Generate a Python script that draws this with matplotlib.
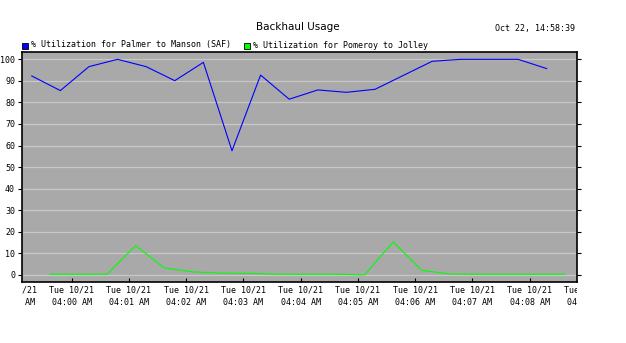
import matplotlib
matplotlib.use("Agg")
import matplotlib.pyplot as plt
from matplotlib.patches import Rectangle
from matplotlib.transforms import Bbox, TransformedBbox
from datetime import datetime

# sample times (Tue 10/21) and % utilization
blue_times = ["03:59:18", "03:59:48", "04:00:18", "04:00:48", "04:01:18",
              "04:01:48", "04:02:18", "04:02:48", "04:03:18", "04:03:48",
              "04:04:18", "04:04:48", "04:05:18", "04:05:48", "04:06:18",
              "04:06:48", "04:07:18", "04:07:48", "04:08:18"]
blue_vals = [92.3, 85.5, 96.6, 100.0, 96.6, 90.1, 98.6, 57.6, 92.7, 81.5,
             85.8, 84.7, 86.1, 92.6, 99.1, 100.0, 100.0, 100.0, 95.7]

green_times = ["03:59:37", "04:00:07", "04:00:37", "04:01:07", "04:01:37",
               "04:02:07", "04:02:37", "04:03:07", "04:03:37", "04:04:07",
               "04:04:37", "04:05:07", "04:05:37", "04:06:07", "04:06:37",
               "04:07:07", "04:07:37", "04:08:07", "04:08:37"]
green_vals = [0.3, 0.3, 0.3, 13.6, 3.2, 1.4, 0.8, 0.7, 0.3, 0.3,
              0.3, 0.0, 15.3, 2.1, 0.4, 0.3, 0.3, 0.3, 0.3]

tick_times = ["03:59", "04:00", "04:01", "04:02", "04:03", "04:04",
              "04:05", "04:06", "04:07", "04:08", "04:09"]
y_ticks = [0, 10, 20, 30, 40, 50, 60, 70, 80, 90, 100]

TITLE = "Backhaul Usage"
STAMP = "Oct 22, 14:58:39"
LABELS = ["% Utilization for Palmer to Manson (SAF)",
          "% Utilization for Pomeroy to Jolley"]
BLUE, GREEN = "#0000ff", "#00ff00"
MONO = "DejaVu Sans Mono"


def minutes(s):
    """Minutes relative to 04:00 for a HH:MM[:SS] string."""
    fmt = "%H:%M:%S" if s.count(":") == 2 else "%H:%M"
    t = datetime.strptime(s, fmt)
    return (t.hour - 4) * 60 + t.minute + t.second / 60.0


W, H = 626, 343
fig = plt.figure(figsize=(W / 100, H / 100), dpi=100)
fig.patch.set_facecolor("white")

# plot box in pixels: x 22..577, y 52..282
ax = fig.add_axes([22 / W, (H - 282) / H, 555 / W, 230 / H])
ax.set_facecolor("#a9a9a9")
for sp in ax.spines.values():
    sp.set_color("black")
    sp.set_linewidth(1.2)

ax.plot([minutes(t) for t in blue_times], blue_vals, color=BLUE, lw=0.8)
ax.plot([minutes(t) for t in green_times], green_vals, color=GREEN, lw=0.8)

ax.set_yticks(y_ticks)
ax.set_yticklabels([str(v) for v in y_ticks], fontfamily=MONO, fontsize=6)
ax.yaxis.grid(True, color="#c8c8c8", lw=0.9)
ax.set_axisbelow(True)
ax.tick_params(axis="y", which="both", left=True, right=True, direction="out",
               length=3, width=0.8, pad=2)

xt = [minutes(t) for t in tick_times]
ax.set_xticks(xt)
ax.set_xticklabels([])
ax.tick_params(axis="x", direction="in", length=3, width=0.8)

# limits after set_xticks, which would otherwise widen the view
ax.set_xlim(-0.87, 8.83)
ax.set_ylim(-3.3, 103.4)

# two-line time labels, clipped to the plot's horizontal extent
clip = TransformedBbox(Bbox([[0, -1], [1, 1]]), ax.transAxes)
for x, t in zip(xt, tick_times):
    h, m = t.split(":")
    txt = ax.text(x, -0.015, f"Tue 10/21\n{int(h):02d}:{m} AM",
                  transform=ax.get_xaxis_transform(), ha="center", va="top",
                  fontfamily=MONO, fontsize=6, linespacing=1.45)
    txt.set_clip_box(clip)
    txt.set_clip_on(True)

fig.text(298 / W, 1 - 27 / H, TITLE, ha="center", va="center",
         fontsize=7.5, fontfamily="DejaVu Sans")
fig.text(575 / W, 1 - 29 / H, STAMP, ha="right", va="center",
         fontsize=6, fontfamily=MONO)

# legend row
for x0, col, lab in [(22, BLUE, LABELS[0]), (244, GREEN, LABELS[1])]:
    fig.patches.append(Rectangle((x0 / W, 1 - 49 / H), 6 / W, 6 / H,
                                 transform=fig.transFigure, facecolor=col,
                                 edgecolor="black", lw=0.6))
    fig.text((x0 + 9) / W, 1 - 45 / H, lab, ha="left", va="center",
             fontsize=6, fontfamily=MONO)

fig.savefig("out.png", dpi=100)
